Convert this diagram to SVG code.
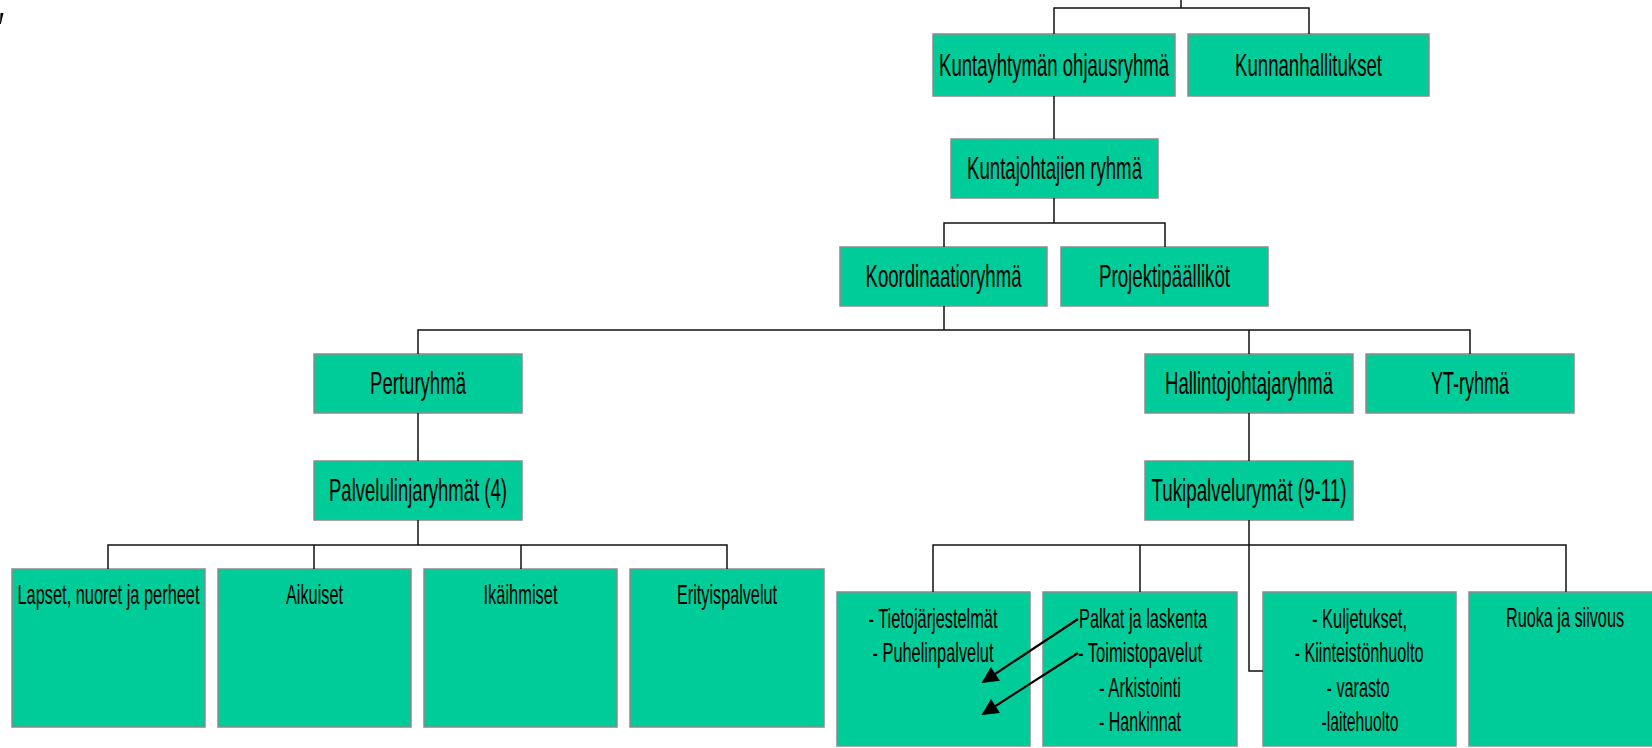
<svg xmlns="http://www.w3.org/2000/svg" width="1652" height="748" viewBox="0 0 1652 748">
<defs>
<style>
.box{fill:#00CC99;stroke:#8c8c8c;stroke-width:1.5}
.t{font-family:"Liberation Sans",Arial,sans-serif;font-size:32px;fill:#000;text-anchor:middle}
.s{font-family:"Liberation Sans",Arial,sans-serif;font-size:28px;fill:#000;text-anchor:middle}
.c{fill:none;stroke:#111;stroke-width:1.5}
.ar{fill:none;stroke:#000;stroke-width:2.2}
</style>
<marker id="ah" viewBox="0 0 10 10" refX="9" refY="5" markerWidth="9" markerHeight="7.5" markerUnits="strokeWidth" orient="auto">
<path d="M0,0 L10,5 L0,10 z" fill="#000"/>
</marker>
</defs>
<rect width="1652" height="748" fill="#fff"/>
<polygon points="0.5,13 3.5,13 0.8,24 0,24" fill="#000"/>
<g id="n-kuntayhtyma"><rect class="box" x="933" y="34" width="242" height="62"/><text class="t" x="1054" y="76" textLength="230" lengthAdjust="spacingAndGlyphs">Kuntayhtymän ohjausryhmä</text></g>
<g id="n-kunnanhallitukset"><rect class="box" x="1188" y="34" width="241" height="62"/><text class="t" x="1308.5" y="76" textLength="147" lengthAdjust="spacingAndGlyphs">Kunnanhallitukset</text></g>
<g id="n-kuntajohtajat"><rect class="box" x="951" y="139" width="207" height="59"/><text class="t" x="1054.5" y="179" textLength="175" lengthAdjust="spacingAndGlyphs">Kuntajohtajien ryhmä</text></g>
<g id="n-koordinaatio"><rect class="box" x="840" y="247" width="207" height="59"/><text class="t" x="943.5" y="287" textLength="156" lengthAdjust="spacingAndGlyphs">Koordinaatioryhmä</text></g>
<g id="n-projekti"><rect class="box" x="1061" y="247" width="207" height="59"/><text class="t" x="1164.5" y="287" textLength="131" lengthAdjust="spacingAndGlyphs">Projektipäälliköt</text></g>
<g id="n-perturyhma"><rect class="box" x="314" y="354" width="208" height="59"/><text class="t" x="418" y="394" textLength="96" lengthAdjust="spacingAndGlyphs">Perturyhmä</text></g>
<g id="n-palvelulinja"><rect class="box" x="314" y="461" width="208" height="59"/><text class="t" x="418" y="501" textLength="178" lengthAdjust="spacingAndGlyphs">Palvelulinjaryhmät (4)</text></g>
<g id="n-hallinto"><rect class="box" x="1145" y="354" width="208" height="59"/><text class="t" x="1249" y="394" textLength="168" lengthAdjust="spacingAndGlyphs">Hallintojohtajaryhmä</text></g>
<g id="n-yt"><rect class="box" x="1366" y="354" width="208" height="59"/><text class="t" x="1470" y="394" textLength="78" lengthAdjust="spacingAndGlyphs">YT-ryhmä</text></g>
<g id="n-tukipalvelu"><rect class="box" x="1145" y="461" width="208" height="59"/><text class="t" x="1249" y="501" textLength="195" lengthAdjust="spacingAndGlyphs">Tukipalvelurymät (9-11)</text></g>
<g id="n-lapset"><rect class="box" x="12" y="569" width="193" height="158"/><text class="s" x="108.5" y="604" textLength="182" lengthAdjust="spacingAndGlyphs">Lapset, nuoret ja perheet</text></g>
<g id="n-aikuiset"><rect class="box" x="218" y="569" width="193" height="158"/><text class="s" x="314.5" y="604" textLength="57" lengthAdjust="spacingAndGlyphs">Aikuiset</text></g>
<g id="n-ikaihmiset"><rect class="box" x="424" y="569" width="193" height="158"/><text class="s" x="520.5" y="604" textLength="74" lengthAdjust="spacingAndGlyphs">Ikäihmiset</text></g>
<g id="n-erityis"><rect class="box" x="630" y="569" width="194" height="158"/><text class="s" x="727" y="604" textLength="100" lengthAdjust="spacingAndGlyphs">Erityispalvelut</text></g>
<g id="n-tieto"><rect class="box" x="837" y="592" width="193" height="154"/>
<text class="s" x="933" y="628" textLength="129" lengthAdjust="spacingAndGlyphs">- Tietojärjestelmät</text>
<text class="s" x="933" y="662" textLength="121" lengthAdjust="spacingAndGlyphs">- Puhelinpalvelut</text></g>
<g id="n-palkat"><rect class="box" x="1043" y="592" width="194" height="154"/>
<text class="s" x="1143" y="628" textLength="128" lengthAdjust="spacingAndGlyphs">Palkat ja laskenta</text>
<text class="s" x="1140" y="662" textLength="124" lengthAdjust="spacingAndGlyphs">- Toimistopavelut</text>
<text class="s" x="1140" y="697" textLength="82" lengthAdjust="spacingAndGlyphs">- Arkistointi</text>
<text class="s" x="1140" y="731" textLength="82" lengthAdjust="spacingAndGlyphs">- Hankinnat</text></g>
<g id="n-kuljetukset"><rect class="box" x="1263" y="592" width="193" height="154"/>
<text class="s" x="1359.5" y="628" textLength="95" lengthAdjust="spacingAndGlyphs">- Kuljetukset,</text>
<text class="s" x="1359" y="662" textLength="129" lengthAdjust="spacingAndGlyphs">- Kiinteistönhuolto</text>
<text class="s" x="1358" y="697" textLength="63" lengthAdjust="spacingAndGlyphs">- varasto</text>
<text class="s" x="1360" y="731" textLength="77" lengthAdjust="spacingAndGlyphs">-laitehuolto</text></g>
<g id="n-ruoka"><rect class="box" x="1469" y="592" width="190" height="154"/>
<text class="s" x="1565" y="627" textLength="118" lengthAdjust="spacingAndGlyphs">Ruoka ja siivous</text></g>
<g id="connectors">
<path class="c" d="M1181,0 V8 M1054,34 V8 H1309 V34"/>
<path class="c" d="M1054,96 V139"/>
<path class="c" d="M1054,198 V223 M944,247 V223 H1165 V247"/>
<path class="c" d="M944,306 V330 M418,354 V330 H1470 V354 M1249,330 V354"/>
<path class="c" d="M418,413 V461 M418,520 V545 M108,569 V545 H727 V569 M314,545 V569 M521,545 V569"/>
<path class="c" d="M1249,413 V461 M1249,520 V671 H1263 M933,592 V545 H1566 V592 M1140,545 V592"/>
<path class="ar" d="M1078,619 L983,682" marker-end="url(#ah)"/>
<path class="ar" d="M1078,653 L983,714" marker-end="url(#ah)"/>
</g>
</svg>
